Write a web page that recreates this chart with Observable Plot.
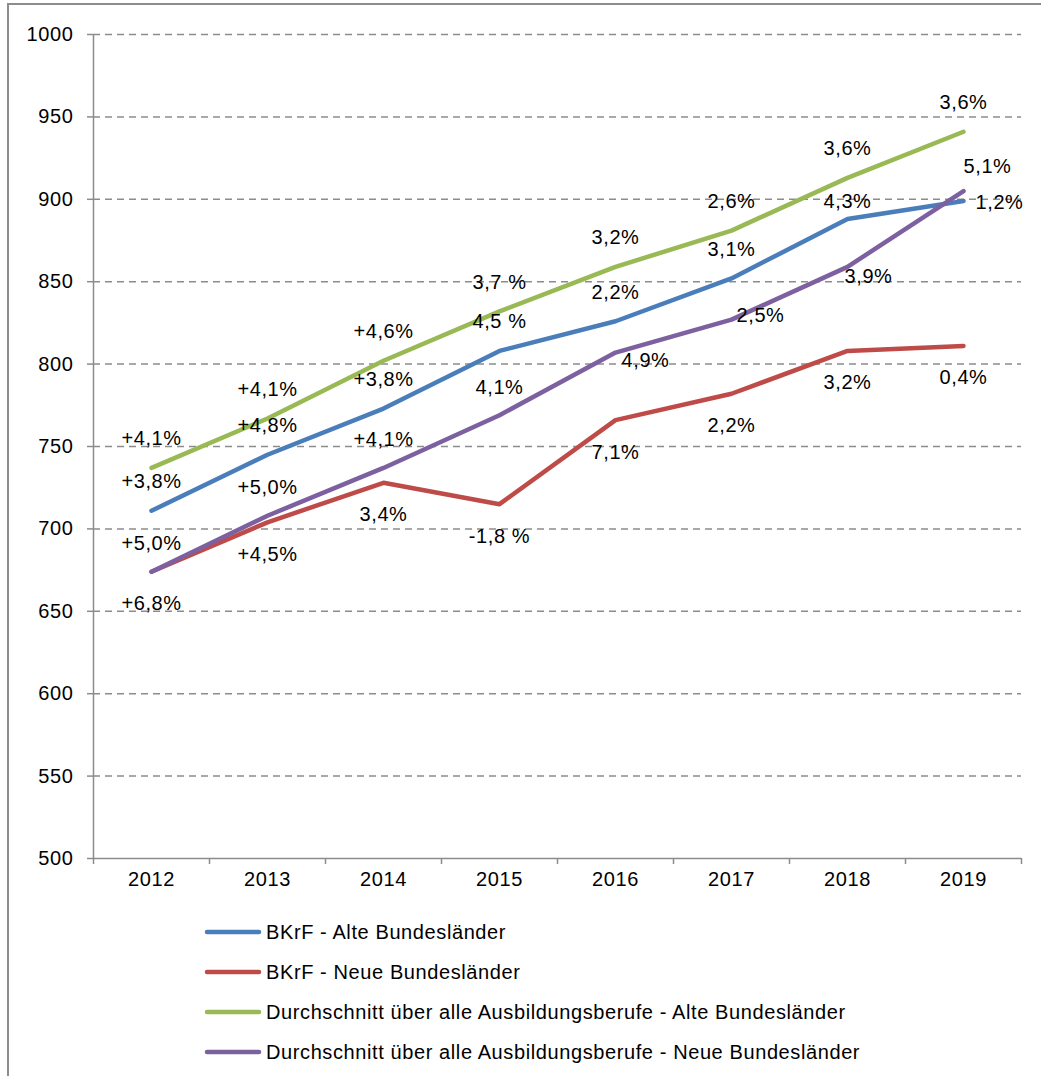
<!DOCTYPE html>
<html>
<head>
<meta charset="utf-8">
<script src="https://cdn.jsdelivr.net/npm/d3@7"></script>
<script src="https://cdn.jsdelivr.net/npm/@observablehq/plot@0.6"></script>
<style>
  html, body { margin: 0; padding: 0; background: #fff; overflow: hidden; }
  #page { position: relative; width: 1041px; height: 1076px; overflow: hidden; font-family: "Liberation Sans", Arial, sans-serif; }
  #frame { position: absolute; left: 7px; top: 3px; width: 1200px; height: 1200px; border: 2px solid #8c8c8c; box-sizing: border-box; }
  #chart { position: absolute; left: 0; top: 0; }
  #chart svg text { letter-spacing: 0.6px; }
  #legend { position: absolute; left: 203px; top: 912px; }
  .item { height: 40px; display: flex; align-items: center; font-size: 20px; color: #000; letter-spacing: 0.6px; }
  .sw { width: 60px; height: 10px; margin-right: 3px; }
</style>
</head>
<body>
<div id="page">
  <div id="frame"></div>
  <div id="chart"></div>
  <div id="legend"></div>
</div>
<script>
// ---- data ----
const years = [2012, 2013, 2014, 2015, 2016, 2017, 2018, 2019];
const seriesNames = [
  "BKrF - Alte Bundesländer",
  "BKrF - Neue Bundesländer",
  "Durchschnitt über alle Ausbildungsberufe - Alte Bundesländer",
  "Durchschnitt über alle Ausbildungsberufe - Neue Bundesländer"
];
const bkrfAlt = [711, 745, 773, 808, 826, 852, 888, 899];
const bkrfNeu = [674, 704, 728, 715, 766, 782, 808, 811];
const avgAlt  = [737, 767, 802, 832, 859, 881, 913, 941];
const avgNeu  = [674, 708, 737, 769, 807, 827, 859, 905];

const bkrfAltLabels = ["+3,8%", "+4,8%", "+3,8%", "4,5 %", "2,2%", "3,1%", "4,3%", "1,2%"];
const bkrfNeuLabels = ["+6,8%", "+4,5%", "3,4%", "-1,8 %", "7,1%", "2,2%", "3,2%", "0,4%"];
const avgAltLabels  = ["+4,1%", "+4,1%", "+4,6%", "3,7 %", "3,2%", "2,6%", "3,6%", "3,6%"];
const avgNeuLabels  = ["+5,0%", "+5,0%", "+4,1%", "4,1%", "4,9%", "2,5%", "3,9%", "5,1%"];

const yTicks = [500, 550, 600, 650, 700, 750, 800, 850, 900, 950, 1000];

// ---- styling ----
const colors = ["#4a7ebb", "#be4b48", "#98b954", "#7d60a0"];
const axisColor = "#8c8c8c";

// ---- tables built from the arrays ----
const valueSets = [bkrfAlt, bkrfNeu, avgAlt, avgNeu];
const labelSets = [bkrfAltLabels, bkrfNeuLabels, avgAltLabels, avgNeuLabels];
const rows = seriesNames.flatMap((s, si) =>
  years.map((year, i) => ({series: s, si, year, value: valueSets[si][i], text: labelSets[si][i]})));

const firstYear = years[0], lastYear = years[years.length - 1];
const bounds = d3.range(firstYear - 0.5, lastYear + 1, 1);

// label placement (pixel nudges relative to the data point)
const baseDy = [-29, 32, -29, -28];
const special = {
  "0-2018": [0, -17], "0-2019": [36, 2],
  "3-2016": [30, 8], "3-2017": [29, -4], "3-2018": [21, 10], "3-2019": [24, -24]
};
function nudge(r) {
  return special[r.si + "-" + r.year] || [0, baseDy[r.si]];
}

const labelMarks = rows.map(r => {
  const [dx, dy] = nudge(r);
  return Plot.text([r], {x: "year", y: "value", text: "text", dx, dy, fill: "#000", fontSize: 20});
});

const chart = Plot.plot({
  width: 1041,
  height: 900,
  marginLeft: 93,
  marginRight: 20,
  marginTop: 34,
  marginBottom: 42,
  style: {fontFamily: '"Liberation Sans", Arial, sans-serif', fontSize: "20px", background: "transparent", overflow: "visible"},
  x: {type: "linear", domain: [firstYear - 0.5, lastYear + 0.5], axis: null},
  y: {domain: [500, 1000], axis: null},
  color: {domain: seriesNames, range: colors},
  marks: [
    Plot.ruleY(yTicks.filter(d => d > 500), {stroke: axisColor, strokeWidth: 1.5, strokeDasharray: "7,5"}),
    Plot.ruleY(yTicks, {x1: firstYear - 0.5, x2: firstYear - 0.5, insetLeft: -6, stroke: axisColor, strokeWidth: 1.5}),
    Plot.ruleX(bounds, {y1: 500, y2: 500, insetBottom: -6, stroke: axisColor, strokeWidth: 1.5}),
    Plot.ruleX([firstYear - 0.5], {stroke: axisColor, strokeWidth: 1.5}),
    Plot.ruleY([500], {stroke: axisColor, strokeWidth: 1.5}),
    Plot.text(yTicks, {y: d => d, text: d => String(d), frameAnchor: "left", textAnchor: "end", dx: -20, fill: "#000", fontSize: 20}),
    Plot.text(years, {x: d => d, text: d => String(d), frameAnchor: "bottom", dy: 27, fill: "#000", fontSize: 20}),
    Plot.line(rows, {x: "year", y: "value", z: "series", stroke: "series", strokeWidth: 4.5,
      strokeLinecap: "round", strokeLinejoin: "round"}),
    ...labelMarks
  ]
});
document.getElementById("chart").appendChild(chart);

// legend
const legend = document.getElementById("legend");
seriesNames.forEach((name, i) => {
  const item = document.createElement("div");
  item.className = "item";
  item.innerHTML = `<svg class="sw" width="60" height="10"><line x1="4" y1="5" x2="56" y2="5" stroke="${colors[i]}" stroke-width="4.5" stroke-linecap="round"/></svg><span>${name}</span>`;
  legend.appendChild(item);
});
</script>
</body>
</html>
